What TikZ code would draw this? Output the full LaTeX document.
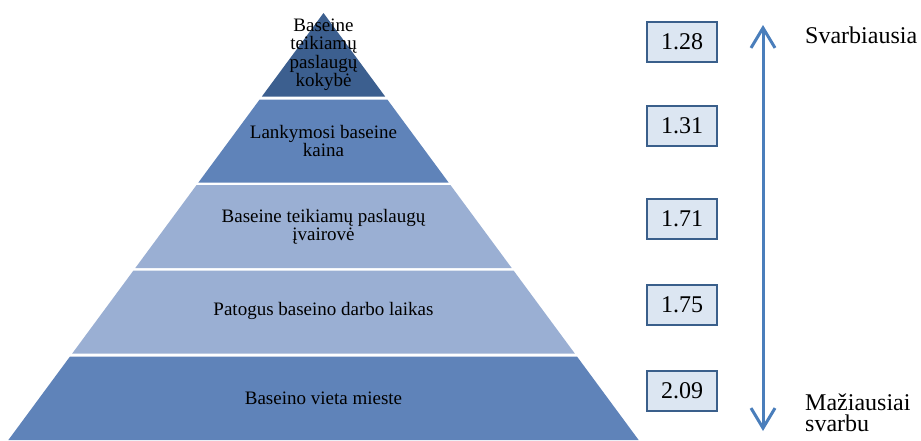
\documentclass[tikz,border=0pt]{standalone}
\usepackage{fontspec}
\setmainfont{Liberation Serif}
\usepackage{tikz}
\usetikzlibrary{positioning, arrows.meta, calc}

\definecolor{topblue}{HTML}{3C5F8F}
\definecolor{midblue}{HTML}{5F83B9}
\definecolor{paleblue}{HTML}{9AAFD3}
\definecolor{boxfill}{HTML}{DCE6F2}
\definecolor{boxline}{HTML}{3A5F8B}
\definecolor{arrowblue}{HTML}{4A7EBB}

\begin{document}
\begin{tikzpicture}[x=1pt, y=-1pt, >={Straight Barb[length=20pt,width=24pt]},
        every node/.style={font=\fontsize{19}{18.5}\selectfont},
        valbox/.style={draw=boxline, fill=boxfill, line width=1.2pt, minimum width=70pt,
          minimum height=40pt, inner sep=0pt, font=\fontsize{24}{24}\selectfont}]
      \useasboundingbox (0,0) rectangle (921,440);

      % Pyramid layers
      \foreach \ytop/\ybot/\col in {13/96.5/topblue, 99.5/182.5/midblue, 185/268/paleblue,
          270.5/353.5/paleblue, 356.5/440/midblue} {
        \pgfmathsetmacro{\wtop}{(\ytop-13)*0.738}
        \pgfmathsetmacro{\wbot}{(\ybot-13)*0.738}
        \fill[\col] (323.5-\wtop,\ytop) -- (323.5+\wtop,\ytop) -- (323.5+\wbot,\ybot)
          -- (323.5-\wbot,\ybot) -- cycle;
      }

      % Layer labels
      \node[align=center] (quality) at (323.5,55) {Baseine\\teikiamų\\paslaugų\\kokybė};
      \node[align=center] (price) at (323.5,141) {Lankymosi baseine\\kaina};
      \node[align=center] (variety) at (323.5,227) {Baseine teikiamų paslaugų\\įvairovė};
      \node (hours) at (323.5,311) {Patogus baseino darbo laikas};
      \node (place) at (323.5,398) {Baseino vieta mieste};

      % Mean values
      \node[valbox] (v1) at (682,42) {1.28};
      \node[valbox] (v2) at (682,126) {1.31};
      \node[valbox] (v3) at (682,219) {1.71};
      \node[valbox] (v4) at (682,305) {1.75};
      \node[valbox] (v5) at (682,391) {2.09};

      % Importance scale
      \coordinate (most) at (763,25);
      \coordinate (least) at (763,431);
      \draw[<->, arrowblue, line width=3pt] (most) -- (least);
      \node[anchor=base west, inner sep=0pt, font=\fontsize{24}{24}\selectfont] (mostlbl) at (805,43) {Svarbiausia};
      \node[anchor=base west, inner sep=0pt, align=left, font=\fontsize{24}{21.5}\selectfont] (leastlbl) at (805,431.5) {Mažiausiai\\svarbu};
    \end{tikzpicture}
\end{document}
